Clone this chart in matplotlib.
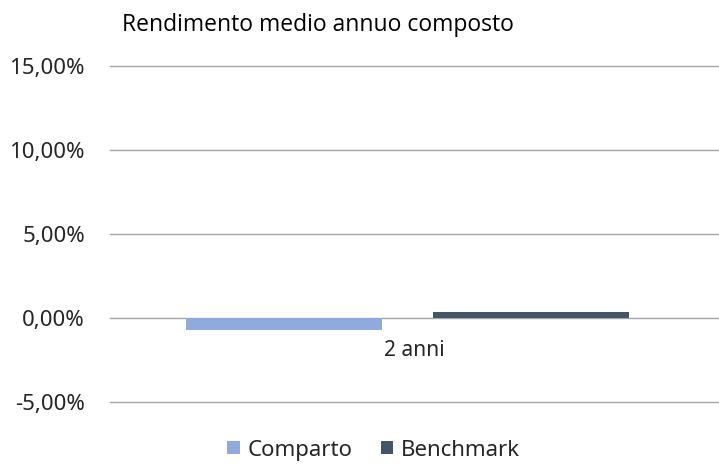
import matplotlib.pyplot as plt
from matplotlib.ticker import FuncFormatter

# Data
categories = ['2 anni']
series_names = ['Comparto', 'Benchmark']
comparto = [-0.71]
benchmark = [0.32]
y_ticks = [-5, 0, 5, 10, 15]

colors = ['#8FAADC', '#44546A']

plt.rcParams['font.family'] = ['Noto Sans', 'DejaVu Sans']

fig = plt.figure(figsize=(7.19, 4.65), dpi=100)
ax = fig.add_axes([0.153, 0.136, 0.847, 0.723])

width = 0.323
shift = -0.0115   # group sits a bit left of the category centre
x = [0]
ax.bar([i + shift - 0.2028 for i in x], comparto, width, color=colors[0], label=series_names[0], zorder=3)
ax.bar([i + shift + 0.2028 for i in x], benchmark, width, color=colors[1], label=series_names[1], zorder=3)

ax.set_ylim(-5, 15)
ax.set_xlim(-0.5, 0.5)
ax.set_yticks(y_ticks)
ax.yaxis.set_major_formatter(FuncFormatter(lambda v, p: ('%.2f%%' % v).replace('.', ',')))
ax.grid(axis='y', color='#A6A6A6', linewidth=1, zorder=0)
for gl in ax.get_ygridlines():
    gl.set_clip_on(False)
ax.tick_params(axis='y', length=0, pad=18, labelsize=16, colors='#262626')

# category label sits just under the zero line
ax.set_xticks([])
for i, c in zip(x, categories):
    ax.annotate(c, (i, 0), xytext=(0, -16), textcoords='offset points', ha='center', va='top',
                fontsize=15, color='#262626')

for s in ax.spines.values():
    s.set_visible(False)

fig.text(122 / 719, 1 - 25 / 465, 'Rendimento medio annuo composto', ha='left', va='center',
         fontsize=16.5, family=['Open Sans', 'DejaVu Sans'], color='black')

fig.legend(loc='center', bbox_to_anchor=(0.52, 0.032), ncol=2, frameon=False, fontsize=16,
           handlelength=0.55, handleheight=0.55, handletextpad=0.35, columnspacing=1.3,
           labelcolor='#262626')

fig.savefig('out.png', dpi=100)
